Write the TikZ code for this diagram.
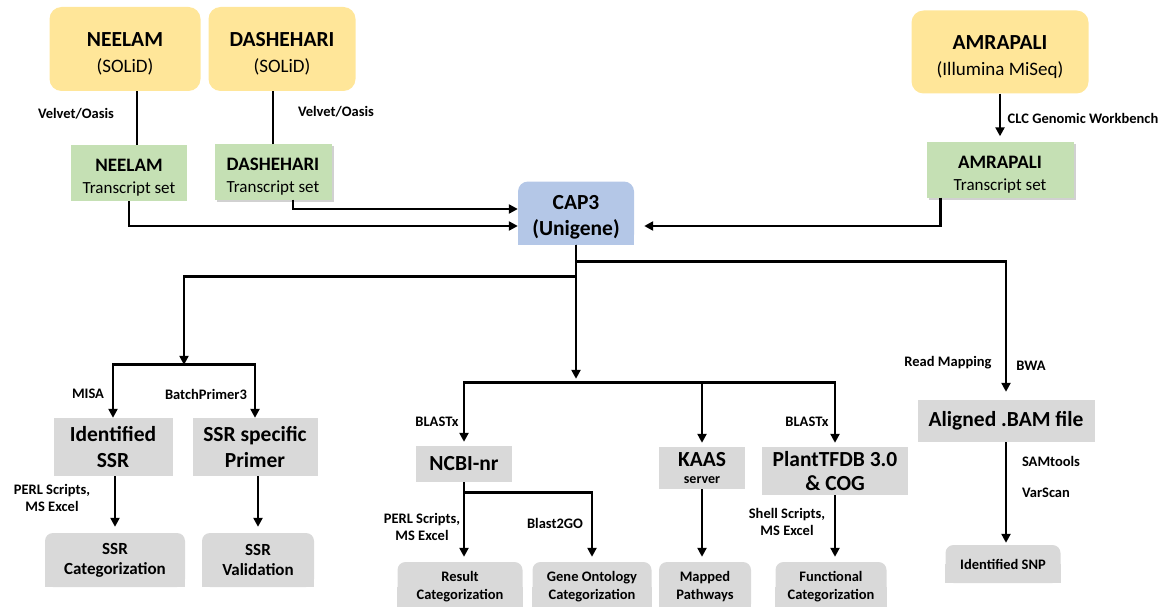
\documentclass[tikz,border=0pt]{standalone}
\usepackage{fontspec}
\setmainfont{Carlito}
\usepackage{tikz}
\usetikzlibrary{positioning, arrows.meta, backgrounds, shadows, calc}

\definecolor{srcyellow}{HTML}{FFE699}
\definecolor{setgreen}{HTML}{C5E0B4}
\definecolor{capblue}{HTML}{B4C7E7}
\definecolor{boxgray}{HTML}{D9D9D9}

\newcommand{\srcttl}[1]{{\rule{0pt}{24pt}\bfseries\fontsize{21.5}{26}\selectfont #1}}
\newcommand{\setttl}[1]{{\rule{0pt}{22pt}\bfseries\fontsize{19}{22}\selectfont #1}}

\tikzset{
  source/.style={fill=srcyellow, rounded corners=12pt, align=center, inner sep=0pt,
    font=\fontsize{19}{26}\selectfont},
  tset/.style={fill=setgreen, align=center, inner sep=0pt, font=\fontsize{17}{22}\selectfont},
  tsetshadow/.style={drop shadow={shadow xshift=2pt, shadow yshift=-2pt, fill=black, opacity=0.18}},
  capbox/.style={fill=capblue, rounded corners=10pt, align=center, inner sep=0pt,
    font=\bfseries\fontsize{21.5}{26}\selectfont},
  tool/.style={fill=boxgray, align=center, inner sep=0pt, font=\bfseries\fontsize{21.5}{26}\selectfont},
  result/.style={fill=boxgray, rounded corners=8pt, align=center, inner sep=0pt,
    font=\bfseries\fontsize{14.5}{18}\selectfont},
  lbl/.style={align=center, inner sep=0pt, font=\bfseries\fontsize{14.5}{17}\selectfont},
  link/.style={line width=2.7pt},
  flow/.style={line width=2.7pt, -{Triangle[length=9pt,width=9pt]}},
}

\begin{document}
\begin{tikzpicture}[x=1pt, y=1pt, on grid]
  \useasboundingbox (0,0) rectangle (1175,-607);

  % sequencing runs
  \node[source, minimum width=151pt, minimum height=84pt] (neelam) at (125,-49) {\srcttl{NEELAM}\\(SOLiD)};
  \node[source, minimum width=147pt, minimum height=84pt, right=157pt of neelam] (dash) {\srcttl{DASHEHARI}\\(SOLiD)};
  \node[source, minimum width=177pt, minimum height=83pt] (amra) at (1000,-52) {\srcttl{AMRAPALI}\\(Illumina MiSeq)};

  % assembled transcript sets
  \node[tset, minimum width=116pt, minimum height=56pt, below right=124pt and 4pt of neelam] (neelamT) {\setttl{NEELAM}\\Transcript set};
  \node[tset, tsetshadow, minimum width=117pt, minimum height=55pt, below left=123pt and 9pt of dash] (dashT) {\setttl{DASHEHARI}\\Transcript set};
  \node[tset, tsetshadow, minimum width=147pt, minimum height=55pt, below=118pt of amra] (amraT) {\setttl{AMRAPALI}\\Transcript set};

  \node[capbox, minimum width=116pt, minimum height=63pt] (cap3) at (576,-213) {\rule{0pt}{22pt}CAP3\\(Unigene)};

  % analysis tools
  \node[tool, minimum width=119pt, minimum height=58pt] (idssr) at (113,-447) {Identified\\SSR};
  \node[tool, minimum width=125pt, minimum height=58pt, right=142pt of idssr] (ssrpr) {SSR specific\\Primer};
  \node[tool, minimum width=96pt, minimum height=36pt] (ncbi) at (464,-464) {NCBI-nr};
  \node[tool, minimum width=86pt, minimum height=42pt, below right=4pt and 238pt of ncbi] (kaas) {KAAS\\[-9pt]{\fontsize{14}{16}\selectfont server}};
  \node[tool, minimum width=146pt, minimum height=48pt, below right=3pt and 133pt of kaas] (plant) {PlantTFDB 3.0\\[-2pt]\& COG};
  \node[tool, minimum width=177pt, minimum height=42pt] (bam) at (1006,-421) {Aligned .BAM file};

  % results
  \node[result, font=\bfseries\fontsize{17}{20}\selectfont, minimum width=140pt, minimum height=54pt, below right=113pt and 2pt of idssr] (ssrcat) {SSR\\Categorization};
  \node[result, font=\bfseries\fontsize{17}{20}\selectfont, minimum width=112pt, minimum height=54pt, below right=113pt and 3pt of ssrpr] (ssrval) {SSR\\Validation};
  \node[result, minimum width=125pt, minimum height=50pt, below left=123pt and 4pt of ncbi] (rescat) {Result\\Categorization};
  \node[result, minimum width=119pt, minimum height=50pt, right=132pt of rescat] (gocat) {Gene Ontology\\Categorization};
  \node[result, minimum width=92pt, minimum height=50pt, right=113pt of gocat] (mapped) {Mapped\\Pathways};
  \node[result, minimum width=111pt, minimum height=50pt, right=126pt of mapped] (funccat) {Functional\\Categorization};
  \node[result, minimum width=115pt, minimum height=38pt, below left=143pt and 3pt of bam] (snp) {Identified SNP};

  % square off the lower corners
  \begin{scope}[on background layer]
    \foreach \n in {ssrcat, ssrval, rescat, gocat, mapped, funccat, snp}
      \fill[boxgray] (\n.west) rectangle (\n.south east);
    \fill[capblue] (cap3.west) rectangle (cap3.south east);
  \end{scope}

  % labels
  \node[lbl, below left=65pt and 49pt of neelam] (velvet1) {Velvet/Oasis};
  \node[lbl, below right=63pt and 54pt of dash] (velvet2) {Velvet/Oasis};
  \node[lbl, below right=66pt and 83pt of amra] (clc) {CLC Genomic Workbench};
  \node[lbl, above left=53pt and 25pt of idssr] (misa) {MISA};
  \node[lbl, above left=53pt and 49pt of ssrpr] (batch) {BatchPrimer3};
  \node[lbl, below left=51pt and 61pt of idssr] (perl1) {PERL Scripts,\\MS Excel};
  \node[lbl, above left=42pt and 27pt of ncbi] (blastx1) {BLASTx};
  \node[lbl, below left=63pt and 42pt of ncbi] (perl2) {PERL Scripts,\\MS Excel};
  \node[lbl, below right=59pt and 91pt of ncbi] (blast2go) {Blast2GO};
  \node[lbl, above left=49pt and 28pt of plant] (blastx2) {BLASTx};
  \node[lbl, below left=51pt and 48pt of plant] (shell) {Shell Scripts,\\MS Excel};
  \node[lbl, above left=58pt and 58pt of bam] (readmap) {Read Mapping};
  \node[lbl, above right=55pt and 25pt of bam] (bwa) {BWA};
  \node[lbl, below right=40pt and 45pt of bam] (samtools) {SAMtools};
  \node[lbl, below right=72pt and 40pt of bam] (varscan) {VarScan};

  % assembly
  \draw[link] (neelamT.74) -- (neelamT.74 |- neelam.south);
  \draw[link] (dashT.north) -- (dashT.north |- dash.south);
  \draw[flow, shorten >=6pt] (amra.south) -- (amraT.north);
  \draw[flow] (neelamT.south) |- ([yshift=-13pt]cap3.west);
  \draw[flow] (dashT.-54) |- ([yshift=4pt]cap3.west);
  \draw[flow, shorten >=10pt] (amraT.-155) |- ([yshift=-13pt]cap3.east);

  % branches out of CAP3
  \coordinate[below=17pt of cap3.south] (rsplit);
  \coordinate[below=32pt of cap3.south] (lsplit);
  \coordinate (ssrbar) at ($(idssr.north)!0.5!(ssrpr.north)+(0,53)$);
  \coordinate (midbar) at ($(cap3.south |- ncbi.north)+(0,63)$);
  \draw[flow, shorten >=8pt] (cap3.south) -- (rsplit) -| (bam.north);
  \draw[flow] (cap3.south) -- (lsplit) -| (ssrbar);
  \draw[flow, shorten >=4pt] (cap3.south) -- (midbar);
  \foreach \n in {idssr, ssrpr}
    \draw[flow] (ssrbar) -| (\n.north);
  \foreach \n in {ncbi, kaas, plant}
    \draw[flow, shorten >=4pt] (midbar) -| (\n.north);

  % downstream analyses
  \coordinate[below=10pt of ncbi.south] (ncbisplit);
  \draw[flow, shorten >=6pt] (ssrcat.north |- idssr.south) -- (ssrcat.north);
  \draw[flow, shorten >=6pt] (ssrval.north |- ssrpr.south) -- (ssrval.north);
  \draw[flow, shorten >=5pt] (ncbi.south) -- (ncbi.south |- rescat.north);
  \draw[flow, shorten >=5pt] (ncbisplit) -| (gocat.north);
  \draw[flow, shorten >=5pt] (kaas.south) -- (kaas.south |- mapped.north);
  \draw[flow, shorten >=5pt] (plant.south) -- (plant.south |- funccat.north);
  \draw[flow, shorten >=2pt] (bam.south) -- (bam.south |- snp.north);
\end{tikzpicture}
\end{document}
